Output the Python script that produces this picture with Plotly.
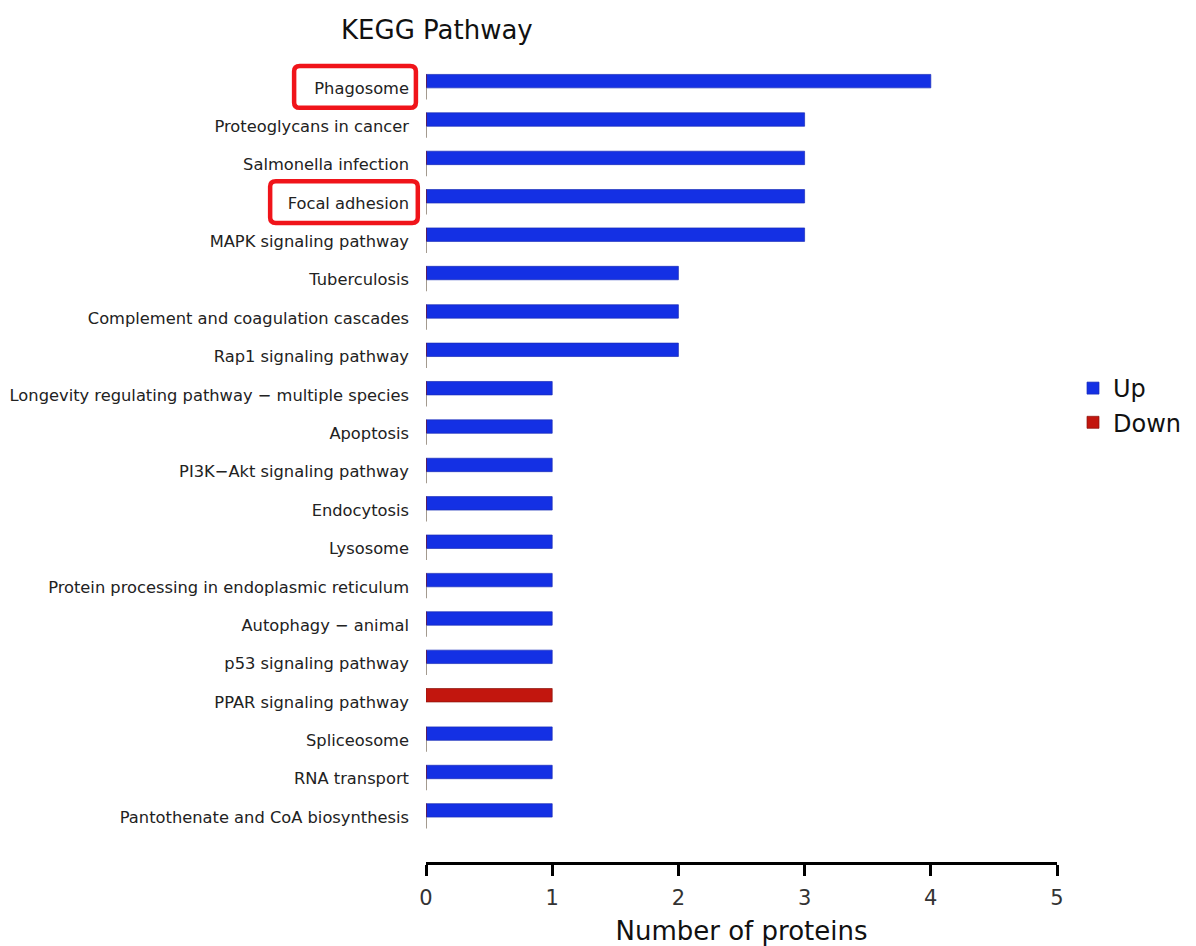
import plotly.graph_objects as go

# KEGG pathways, listed top to bottom
pathways = [
    "Phagosome",
    "Proteoglycans in cancer",
    "Salmonella infection",
    "Focal adhesion",
    "MAPK signaling pathway",
    "Tuberculosis",
    "Complement and coagulation cascades",
    "Rap1 signaling pathway",
    "Longevity regulating pathway \u2212 multiple species",
    "Apoptosis",
    "PI3K\u2212Akt signaling pathway",
    "Endocytosis",
    "Lysosome",
    "Protein processing in endoplasmic reticulum",
    "Autophagy \u2212 animal",
    "p53 signaling pathway",
    "PPAR signaling pathway",
    "Spliceosome",
    "RNA transport",
    "Pantothenate and CoA biosynthesis",
]
up_counts = [4, 3, 3, 3, 3, 2, 2, 2, 1, 1, 1, 1, 1, 1, 1, 1, 0, 1, 1, 1]
down_counts = [0, 0, 0, 0, 0, 0, 0, 0, 0, 0, 0, 0, 0, 0, 0, 0, 1, 0, 0, 0]
highlighted = ["Phagosome", "Focal adhesion"]
x_ticks = [0, 1, 2, 3, 4, 5]

FONT = "DejaVu Sans"
BLUE = "#1430e4"
RED = "#c2160e"
BAR_W = 0.35

rows = list(range(len(pathways)))

fig = go.Figure()
fig.add_trace(go.Bar(
    name="Up", y=rows, x=up_counts, orientation="h",
    width=BAR_W, offset=-BAR_W,
    marker=dict(color=BLUE, line=dict(color="#1a2cb8", width=0.7)),
))
fig.add_trace(go.Bar(
    name="Down", y=rows, x=down_counts, orientation="h",
    width=BAR_W, offset=-BAR_W,
    marker=dict(color=RED, line=dict(color="#8a120c", width=0.7)),
))

# zero-length "Down" bars show up as a thin stroke at the origin
zx, zy = [], []
for i, d in enumerate(down_counts):
    if d == 0:
        zx += [0, 0, None]
        zy += [i, i + 0.3, None]
fig.add_trace(go.Scatter(
    x=zx, y=zy, mode="lines", line=dict(color="#85786a", width=1.5),
    showlegend=False, hoverinfo="skip",
))

# rounded red frames around highlighted pathway labels
frame_x = {"Phagosome": (-0.209, -0.016), "Focal adhesion": (-0.247, -0.013)}
rx, ry = 0.009, 0.14
for name in highlighted:
    i = pathways.index(name)
    x0, x1 = frame_x[name]
    y0, y1 = i - 0.57, i + 0.52
    path = (
        f"M {x0+rx},{y0} L {x1-rx},{y0} Q {x1},{y0} {x1},{y0+ry} "
        f"L {x1},{y1-ry} Q {x1},{y1} {x1-rx},{y1} "
        f"L {x0+rx},{y1} Q {x0},{y1} {x0},{y1-ry} "
        f"L {x0},{y0+ry} Q {x0},{y0} {x0+rx},{y0} Z"
    )
    fig.add_shape(type="path", path=path, xref="paper", yref="y",
                  line=dict(color="#f0141a", width=4.5), layer="above")

fig.update_layout(
    width=1196, height=946,
    margin=dict(l=426, r=139, t=61, b=84, autoexpand=False),
    plot_bgcolor="white", paper_bgcolor="white",
    barmode="overlay",
    font=dict(family=FONT, color="#222222"),
    title=dict(text="KEGG Pathway", x=341 / 1196, xref="container", xanchor="left",
               y=1 - 30 / 946, yref="container", yanchor="middle",
               font=dict(size=26, family=FONT, color="#111111")),
    legend=dict(x=1073 / 1196, y=1 - 366 / 946, xref="container", yref="container",
                xanchor="left", yanchor="top",
                font=dict(size=24, family=FONT, color="#111111"),
                tracegroupgap=0, itemwidth=30),
    showlegend=True,
)
fig.update_xaxes(
    range=[0, 5], tickvals=x_ticks, ticktext=[str(t) for t in x_ticks],
    showline=True, linecolor="black", linewidth=2.5,
    ticks="outside", ticklen=11, tickwidth=2.5, tickcolor="black",
    showgrid=False, zeroline=False, ticklabelstandoff=4,
    tickfont=dict(size=21, family=FONT, color="#333333"),
    title=dict(text="Number of proteins", font=dict(size=26, family=FONT, color="#111111"),
               standoff=14),
)
fig.update_yaxes(
    range=[20.17, -0.7], tickvals=rows, ticktext=pathways,
    showline=False, showgrid=False, zeroline=False, ticks="",
    ticklabelstandoff=16,
    tickfont=dict(size=16.3, family=FONT, color="#222222"),
)

fig.write_html("out.html")
